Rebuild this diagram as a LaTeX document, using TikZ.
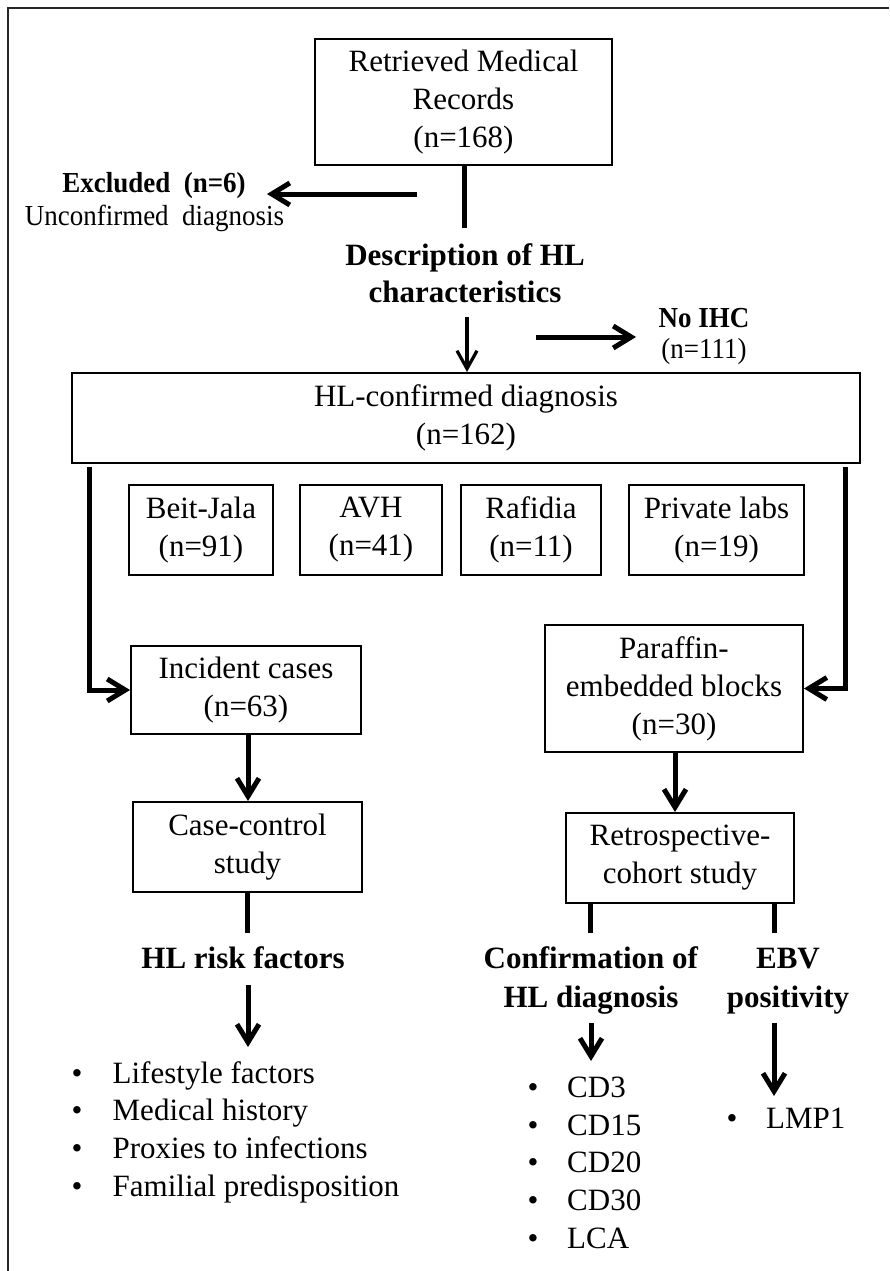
\documentclass[tikz,border=0pt]{standalone}
\usepackage{fontspec}
\setmainfont{Liberation Serif}
\newfontfamily\condfont[FakeStretch=0.93]{Liberation Serif}
\usetikzlibrary{arrows.meta,calc}
\newcommand{\fsz}{\fontsize{31}{38}\selectfont}
\newcommand{\fsm}{\condfont\fontsize{29}{32}\selectfont}
\newcommand{\bul}[1]{\makebox[#1][l]{\textbullet}}
\begin{document}
\begin{tikzpicture}[x=1pt,y=-1pt,
  box/.style={draw, line width=2pt, inner sep=0pt, align=center, font=\fsz, execute at begin node={\rule{0pt}{27pt}}},
  lbl/.style={inner sep=0pt, anchor=base, align=center, font=\fsz},
  small/.style={inner sep=0pt, anchor=base, align=center, font=\fsm},
  lst/.style={inner sep=0pt, anchor=base west, align=left, font=\fontsize{31}{37.6}\selectfont},
  arr/.style={line width=5pt, -{Straight Barb[length=18pt,width=22pt]}},
  thinarr/.style={line width=3.2pt, -{Straight Barb[length=18pt,width=20pt]}},
  ln/.style={line width=5pt},
  frame/.style={line width=2.5pt, black!85}]
\useasboundingbox (0,0) rectangle (889,1271);
\draw[frame] (8,1271) -- (8,8) -- (889,8);

% boxes
\node[box, minimum width=297pt, minimum height=126pt] (rec) at (463.5,102) {Retrieved Medical\\Records\\(n=168)};
\node[box, minimum width=788pt, minimum height=90pt] (hl) at (466,418) {HL-confirmed diagnosis\\(n=162)};
\node[box, minimum width=144pt, minimum height=90pt] (bj) at (201,530) {Beit-Jala\\(n=91)};
\node[box, minimum width=142pt, minimum height=90pt] (avh) at (371,530) {AVH\\(n=41)};
\node[box, minimum width=140pt, minimum height=90pt] (raf) at (531,530) {Rafidia\\(n=11)};
\node[box, minimum width=175pt, minimum height=90pt] (pl) at (716.5,530) {Private labs\\(n=19)};
\node[box, minimum width=230pt, minimum height=88pt] (inc) at (246,690) {Incident cases\\(n=63)};
\node[box, minimum width=229pt, minimum height=90pt] (cc) at (247.5,847) {Case-control\\study};
\node[box, minimum width=258pt, minimum height=127pt] (par) at (674,688.5) {Paraffin-\\embedded blocks\\(n=30)};
\node[box, minimum width=228pt, minimum height=90pt] (ret) at (680,858) {Retrospective-\\cohort study};

% labels (anchor base = last line's baseline)
\node[small] (exc) at (154,192) {\textbf{Excluded\ \ (n=6)}};
\node[small] (unc) at (154.5,225) {Unconfirmed\ \ diagnosis};
\node[lbl] (desc) at (465,302) {\textbf{Description of HL}\\[-1pt]\textbf{characteristics}};
\node[small] (noihc) at (704,358) {\textbf{No IHC}\\[-1pt](n=111)};
\node[lbl] (risk) at (243,968) {\textbf{HL risk factors}};
\node[lbl] (conf) at (591,1007) {\textbf{Confirmation of}\\[1pt]\textbf{HL diagnosis}};
\node[lbl] (ebv) at (788,1007) {\textbf{EBV}\\[1pt]\textbf{positivity}};

% lists
\node[lst] (rl) at (71.5,1196) {\bul{41pt}Lifestyle factors\\\bul{41pt}Medical history\\\bul{41pt}Proxies to infections\\\bul{41pt}Familial predisposition};
\node[lst] (cdl) at (527.5,1248) {\bul{39.5pt}CD3\\\bul{39.5pt}CD15\\\bul{39.5pt}CD20\\\bul{39.5pt}CD30\\\bul{39.5pt}LCA};
\node[lst] (lmp) at (726.5,1128) {\bul{39.5pt}LMP1};

% coordinates
\coordinate (c1) at (464,228);
\coordinate (e0) at (417,194);
\coordinate (e1) at (267,194);
\coordinate (d0) at (467,317);
\coordinate (n0) at (536,337);
\coordinate (n1) at (636,337);
\coordinate (l0) at (89,467);
\coordinate (r0) at (845,467);
\coordinate (c2) at (247,933);
\coordinate (h0) at (248,985);
\coordinate (h1) at (248,1047);
\coordinate (cf0) at (591,1023);
\coordinate (cf1) at (591,1061);
\coordinate (eb0) at (774,1023);
\coordinate (eb1) at (774,1096);

% connectors
\draw[ln] (rec.south -| c1) -- (c1);
\draw[arr] (e0) -- (e1);
\draw[thinarr] (d0) -- (d0 |- hl.north);
\draw[arr] (n0) -- (n1);
\draw[arr] (l0) |- (inc.west);
\draw[arr] (r0) |- (par.east);
\draw[arr] (inc.south -| 248,0) -- (cc.north -| 248,0);
\draw[arr] (par.south -| 675,0) -- (ret.north -| 675,0);
\draw[ln] (cc.south -| c2) -- (c2);
\draw[arr] (h0) -- (h1);
\draw[ln] (ret.south -| 590,0) -- (590,933);
\draw[ln] (ret.south -| 774,0) -- (774,933);
\draw[arr] (cf0) -- (cf1);
\draw[arr] (eb0) -- (eb1);
\end{tikzpicture}
\end{document}
